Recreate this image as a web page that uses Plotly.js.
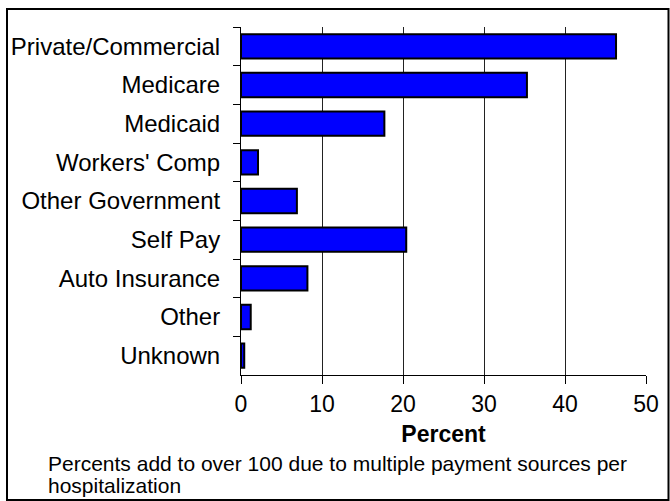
<!DOCTYPE html>
<html>
<head>
<meta charset="utf-8">
<script src="https://cdn.plot.ly/plotly-3.0.1.min.js"></script>
<style>
  html, body { margin: 0; padding: 0; background: #fff; }
  #chart { width: 670px; height: 501px; }
</style>
</head>
<body>
<div id="chart"></div>
<script>
const categories = ["Private/Commercial", "Medicare", "Medicaid", "Workers' Comp", "Other Government", "Self Pay", "Auto Insurance", "Other", "Unknown"];
const percents = [46.3, 35.3, 17.7, 2.1, 6.9, 20.4, 8.2, 1.2, 0.4];
const xTickValues = [0, 10, 20, 30, 40, 50];
const xTitle = "Percent";
const footLine1 = "Percents add to over 100 due to multiple payment sources per";
const footLine2 = "hospitalization";

const FONT = "Liberation Sans, Arial, sans-serif";

const trace = {
  type: "bar",
  orientation: "h",
  y: categories,
  x: percents,
  marker: { color: "#0000FF", line: { color: "#000000", width: 2 } },
  hoverinfo: "x+y"
};

const L = 241, R = 24, T = 27, B = 126;
const PW = 670 - L - R, PH = 501 - T - B;
const px = v => (v - L) / PW;
const py = v => (T + PH - v) / PH;

const layout = {
  width: 670,
  height: 501,
  margin: { l: L, r: R, t: T, b: B, pad: 0 },
  paper_bgcolor: "#ffffff",
  plot_bgcolor: "#ffffff",
  showlegend: false,
  bargap: 0.37,
  font: { family: FONT, color: "#000000" },
  xaxis: {
    range: [0, 50],
    tickvals: xTickValues,
    ticktext: xTickValues.map(String),
    showgrid: true,
    gridcolor: "#222222",
    gridwidth: 1,
    zeroline: false,
    showline: true,
    linecolor: "#000000",
    linewidth: 1,
    ticks: "outside",
    ticklen: 8,
    tickcolor: "#000000",
    tickfont: { family: FONT, size: 23, color: "#000000" },
    title: { text: "<b>" + xTitle + "</b>", font: { family: FONT, size: 23, color: "#000000" }, standoff: 10 },
    fixedrange: true
  },
  yaxis: {
    type: "category",
    autorange: "reversed",
    showgrid: false,
    zeroline: false,
    showline: true,
    linecolor: "#000000",
    linewidth: 1,
    ticks: "outside",
    tickson: "boundaries",
    ticklen: 7,
    tickcolor: "#000000",
    tickfont: { family: FONT, size: 24, color: "#000000" },
    ticklabelstandoff: 15,
    fixedrange: true
  },
  shapes: [
    {
      type: "rect", xref: "paper", yref: "paper",
      x0: px(7), x1: px(668.5), y0: py(500), y1: py(9),
      line: { color: "#000000", width: 2 }, fillcolor: "rgba(0,0,0,0)"
    }
  ],
  annotations: [
    {
      text: footLine1, xref: "paper", yref: "paper",
      x: px(46), y: py(477), xanchor: "left", yanchor: "bottom", showarrow: false,
      align: "left", font: { family: FONT, size: 21, color: "#000000" }
    },
    {
      text: footLine2, xref: "paper", yref: "paper",
      x: px(46), y: py(499), xanchor: "left", yanchor: "bottom", showarrow: false,
      align: "left", font: { family: FONT, size: 21, color: "#000000" }
    }
  ]
};

Plotly.newPlot("chart", [trace], layout, { displayModeBar: false, staticPlot: true });
</script>
</body>
</html>
